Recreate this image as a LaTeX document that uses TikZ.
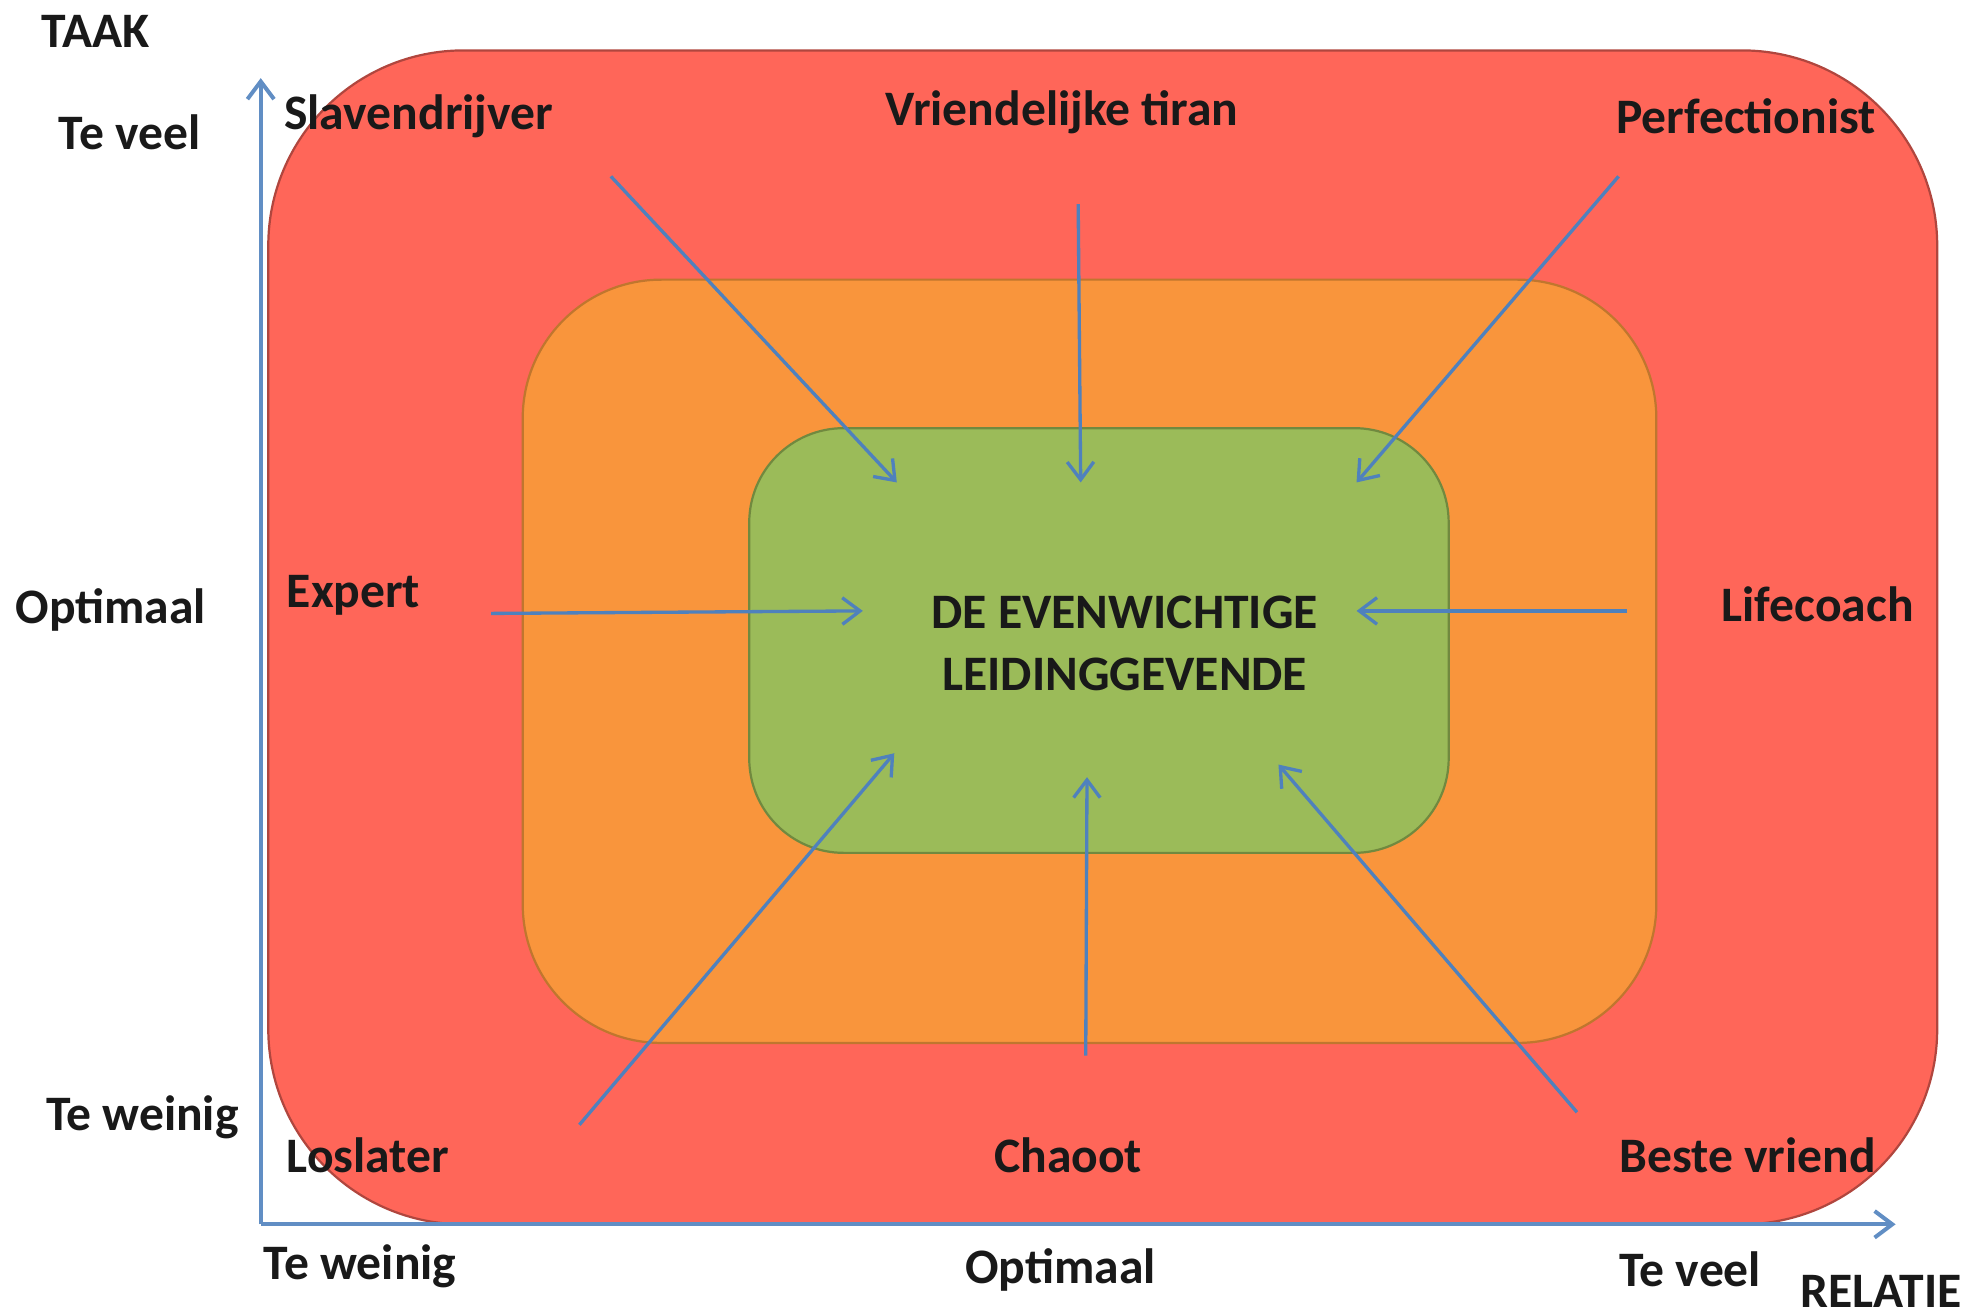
\documentclass[tikz,border=0pt]{standalone}
\usepackage{fontspec}
\setmainfont{Carlito}
\usetikzlibrary{arrows.meta}
\definecolor{redfill}{HTML}{FF6659}
\definecolor{redline}{HTML}{B0463E}
\definecolor{orfill}{HTML}{F9953C}
\definecolor{orline}{HTML}{C0762E}
\definecolor{grfill}{HTML}{9BBB59}
\definecolor{grline}{HTML}{71893F}
\definecolor{arrowblue}{HTML}{4F81BD}
\tikzset{
  lbl/.style={font=\fontsize{11.2}{13}\selectfont\bfseries, inner sep=0pt, text=black!90},
  conn/.style={draw=arrowblue, line width=0.75pt, -{Straight Barb[length=4pt,width=6pt]}},
  axis/.style={draw=arrowblue!90, line width=0.9pt, -{Straight Barb[length=4pt,width=6pt]}},
}
\begin{document}
\begin{tikzpicture}[x=0.01cm,y=-0.01cm]
\useasboundingbox (0,0) rectangle (1568,1044);
% boxes
\draw[fill=redfill, draw=redline, line width=0.5pt, rounded corners=1.55cm] (213,40) rectangle (1538,972);
\draw[fill=orfill, draw=orline, line width=0.5pt, rounded corners=1.1cm] (415,222) rectangle (1315,828);
\node[draw=grline, fill=grfill, line width=0.5pt, rounded corners=0.75cm, minimum width=5.55cm, minimum height=3.37cm, inner sep=0pt] (center) at (872.5,508.5) {};
\node[lbl, align=center, font=\fontsize{11.2}{13.9}\selectfont\bfseries] (ctext) at (893,511) {DE EVENWICHTIGE\\LEIDINGGEVENDE};
% axes
\coordinate (origin) at (207,972);
\coordinate (ytip) at (207,62);
\coordinate (xtip) at (1505,972);
\draw[axis] (origin) -- (ytip);
\draw[axis] (origin) -- (xtip);
% axis labels
\node[lbl] (taak) at (76,25) {TAAK};
\node[lbl] (yveel) at (103,105) {Te veel};
\node[lbl] (yopt) at (88,484) {Optimaal};
\node[lbl] (yweinig) at (113,887) {Te weinig};
\node[lbl] (xweinig) at (286,1005) {Te weinig};
\node[lbl] (xopt) at (842,1008) {Optimaal};
\node[lbl] (xveel) at (1342,1008) {Te veel};
\node[lbl, anchor=east] (relatie) at (1558,1025) {RELATIE};
% style labels
\node[lbl, anchor=west] (slaven) at (225,92) {Slavendrijver};
\node[lbl] (tiran) at (843,89) {Vriendelijke tiran};
\node[lbl, anchor=east] (perf) at (1490,92) {Perfectionist};
\node[lbl, anchor=west] (expert) at (227,473) {Expert};
\node[lbl, anchor=east] (life) at (1520,480) {Lifecoach};
\node[lbl, anchor=west] (los) at (227,917) {Loslater};
\node[lbl] (chaoot) at (848,917) {Chaoot};
\node[lbl, anchor=east] (beste) at (1490,917) {Beste vriend};
% arrow coordinates
\coordinate (s1) at (485,140); \coordinate (e1) at (712,383);
\coordinate (s2) at (856,162); \coordinate (e2) at (858,383);
\coordinate (s3) at (1285,140); \coordinate (e3) at (1077,383);
\coordinate (s4) at (390,487); \coordinate (e4) at (685,485);
\coordinate (s5) at (1292,485); \coordinate (e5) at (1077,485);
\coordinate (s6) at (460,893); \coordinate (e6) at (710,598);
\coordinate (s7) at (862,838); \coordinate (e7) at (863,617);
\coordinate (s8) at (1252,883); \coordinate (e8) at (1015,607);
\foreach \i in {1,...,8} {\draw[conn] (s\i) -- (e\i);}
\end{tikzpicture}
\end{document}
